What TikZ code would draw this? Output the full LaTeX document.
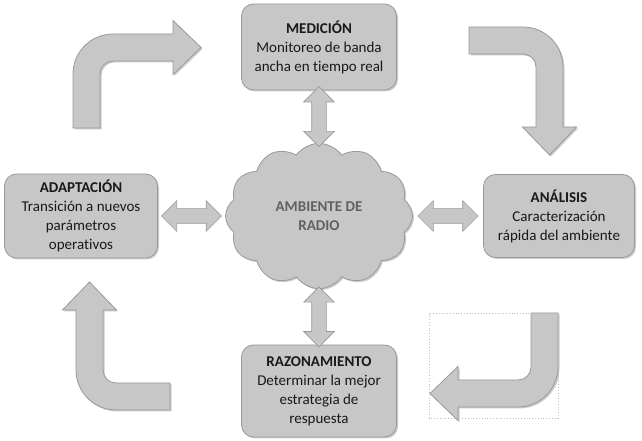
\documentclass[tikz,border=0pt]{standalone}
\usepackage{fontspec}
\setmainfont{Carlito}[Ligatures=NoCommon]
\usetikzlibrary{positioning,calc,shapes.symbols,shapes.arrows,shadows}

\tikzset{
  giro/.pic={
    \path[flecha giro] (0,-94) -- (0,-40) arc (180:90:40pt) -- (100,0) -- (100,13.5)
      -- (128,-13.5) -- (100,-40.5) -- (100,-27) -- (40,-27) arc (90:180:13pt)
      -- (27,-94) -- cycle;
  }
}

\begin{document}
\begin{tikzpicture}[x=1pt,y=1pt,
    sombra/.style={drop shadow={shadow xshift=1.5pt,shadow yshift=-1.5pt,opacity=.4}},
    etapa/.style={rectangle,rounded corners=12pt,draw=black!40,fill=black!22,line width=.8pt,
      sombra,minimum width=155pt,minimum height=86pt,align=center,
      text=black!90,font=\fontsize{15}{19}\selectfont},
    ambiente/.style={cloud,cloud puffs=12,cloud puff arc=110,draw=black!40,fill=black!22,
      line width=.8pt,sombra,minimum width=187pt,minimum height=122pt,align=center,
      text=black!62,font=\fontsize{15}{19}\selectfont},
    doble/.style={double arrow,draw=black!40,fill=black!22,line width=.6pt,
      inner xsep=0pt,inner ysep=7pt,minimum height=60pt,double arrow head extend=8pt},
    flecha giro/.style={draw=black!40,fill=black!22,line width=.8pt,sombra}]
  \useasboundingbox (0,0) rectangle (642,441);

  \node[ambiente] (ambiente) at (319,225) {\textbf{AMBIENTE DE}\\\textbf{RADIO}};
  \node[etapa,above of=ambiente,node distance=169pt] (medicion)
    {\textbf{MEDICIÓN}\\Monitoreo de banda\\ancha en tiempo real};
  \node[etapa,right of=ambiente,node distance=240pt,minimum width=151pt,minimum height=83pt] (analisis)
    {\textbf{ANÁLISIS}\\Caracterización\\rápida del ambiente};
  \node[etapa,below of=ambiente,node distance=175pt,minimum height=92pt] (razonamiento)
    {\textbf{RAZONAMIENTO}\\Determinar la mejor\\estrategia de\\respuesta};
  \node[etapa,left of=ambiente,node distance=238pt,minimum width=153pt,minimum height=84pt] (adaptacion)
    {\textbf{ADAPTACIÓN}\\Transición a nuevos\\parámetros\\operativos};

  % flechas dobles hacia el ambiente
  \node[doble,rotate=90] (dobleA) at ($(medicion.south)!0.5!(ambiente.north)$) {};
  \node[doble] (dobleB) at ($(ambiente.east)!0.5!(analisis.west)$) {};
  \node[doble,rotate=90] (dobleC) at ($(ambiente.south)!0.5!(razonamiento.north)$) {};
  \node[doble] (dobleD) at ($(adaptacion.east)!0.5!(ambiente.west)$) {};

  % flechas del ciclo
  \pic at (73,407) {giro};
  \pic[rotate=-90] at (563,414) {giro};
  \pic[rotate=180] at (558,34) {giro};
  \pic[rotate=90] at (76,31) {giro};
  \draw[black!25,dotted,line width=.8pt] (429,23) rectangle (558,128);
\end{tikzpicture}
\end{document}
